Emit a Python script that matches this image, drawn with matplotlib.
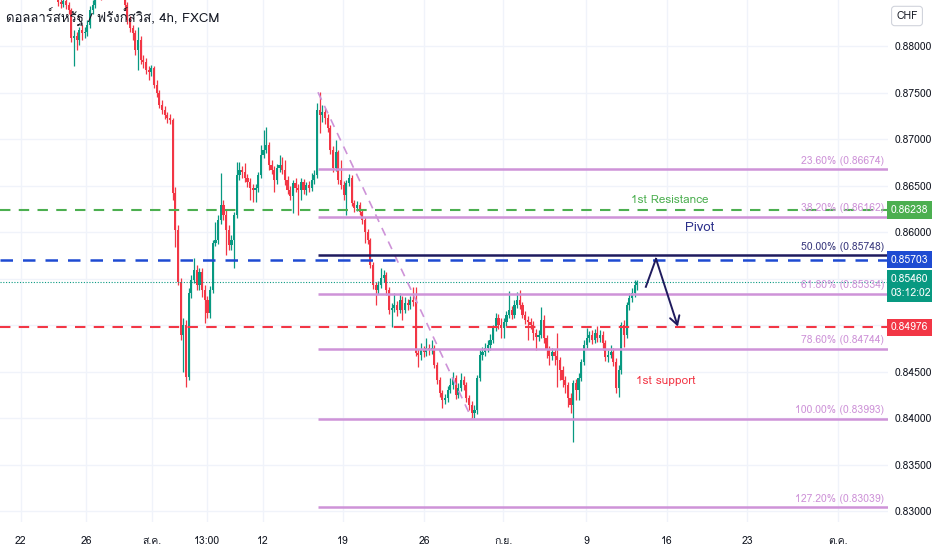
import numpy as np
import matplotlib
matplotlib.use("Agg")
import matplotlib.pyplot as plt
from matplotlib import font_manager
from matplotlib.ft2font import FT2Font

# USD/CHF 4h candles, prices in 1e-5 units (open = previous close)
first_open = 88516
close_pts = [
    88474, 88452, 88484, 88441, 88387, 88086, 88108, 88065, 88172, 88140,
    88151, 88226, 88387, 88441, 88549, 88602, 88549, 88656, 88764, 88871,
    88817, 88925, 88871, 88817, 88656, 88441, 88280, 88194, 88140, 87957,
    88065, 87850, 87828, 87742, 87721, 87764, 87581, 87495, 87366, 87312,
    87259, 87226, 87205, 86420, 86022, 85463, 84894, 85001, 84442, 85345,
    85485, 85592, 85431, 85571, 85377, 85270, 85130, 85377, 85883, 85915,
    86130, 86291, 86184, 86022, 85861, 85915, 86184, 86614, 86667, 86646,
    86581, 86538, 86474, 86452, 86474, 86614, 86829, 86882, 86936, 86721,
    86667, 86560, 86689, 86721, 86667, 86560, 86452, 86388, 86528, 86474,
    86452, 86538, 86452, 86506, 86474, 86560, 86614, 87312, 87259, 87291,
    87226, 87119, 86882, 86689, 86861, 86560, 86506, 86399, 86528, 86581,
    86313, 86259, 86291, 86216, 86130, 86001, 85915, 85646, 85431, 85377,
    85431, 85507, 85539, 85377, 85163, 85184, 85216, 85163, 85270, 85163,
    85238, 85216, 85270, 85249, 84700, 84679, 84733, 84711, 84754, 84733,
    84754, 84571, 84410, 84270, 84195, 84217, 84303, 84356, 84432, 84249,
    84324, 84410, 84356, 84217, 84141, 84055, 84088, 84432, 84679, 84711,
    84754, 84786, 84840, 84969, 85077, 85001, 84969, 85034, 85109, 85163,
    85109, 85216, 85270, 85216, 85109, 85055, 85034, 85001, 84915, 84872,
    84894, 85055, 84862, 84733, 84668, 84711, 84668, 84625, 84518, 84410,
    84356, 84217, 84141, 84378, 84303, 84432, 84604, 84786, 84862, 84894,
    84840, 84915, 84862, 84894, 84808, 84657, 84679, 84711, 84604, 84324,
    84518, 85001, 84894, 85216, 85292, 85345, 85431, 85460,
]
high_pts = [
    88560, 88506, 88527, 88517, 88474, 88409, 88172, 88151, 88205, 88226,
    88205, 88280, 88431, 88495, 88602, 88656, 88646, 88710, 88817, 88925,
    88925, 88979, 88968, 88925, 88850, 88689, 88474, 88323, 88226, 88172,
    88205, 88108, 87904, 87871, 87786, 87796, 87786, 87635, 87528, 87420,
    87356, 87291, 87270, 87227, 86485, 86076, 85507, 85077, 85055, 85399,
    85539, 85722, 85646, 85614, 85614, 85431, 85313, 85421, 85915, 86109,
    86184, 86635, 86345, 86237, 86076, 85969, 86216, 86754, 86754, 86711,
    86743, 86625, 86581, 86517, 86517, 86646, 86936, 87097, 87130, 86968,
    86775, 86711, 86732, 86829, 86807, 86775, 86603, 86496, 86560, 86581,
    86517, 86581, 86571, 86538, 86549, 86635, 86667, 87388, 87505, 87366,
    87334, 87270, 87151, 86926, 86990, 86882, 86775, 86549, 86560, 86625,
    86614, 86345, 86334, 86323, 86248, 86162, 86033, 85936, 85679, 85463,
    85474, 85614, 85592, 85571, 85410, 85238, 85345, 85259, 85345, 85313,
    85302, 85281, 85313, 85410, 85410, 84743, 84808, 84775, 84862, 84797,
    84840, 84786, 84604, 84442, 84303, 84260, 84346, 84432, 84496, 84464,
    84378, 84485, 84453, 84389, 84249, 84184, 84141, 84464, 84733, 84765,
    84808, 84840, 84905, 85001, 85130, 85120, 85077, 85077, 85152, 85367,
    85206, 85270, 85356, 85377, 85249, 85152, 85098, 85077, 85044, 84958,
    84948, 85195, 85109, 84894, 84776, 84754, 84743, 84915, 84657, 84560,
    84453, 84389, 84270, 84410, 84421, 84485, 84636, 84840, 84969, 84937,
    84948, 84958, 84990, 84948, 84937, 84840, 84733, 84786, 84754, 84646,
    84571, 85034, 85055, 85249, 85345, 85399, 85485, 85485,
]
low_pts = [
    88431, 88409, 88420, 88398, 88345, 88044, 87786, 87957, 88011, 88065,
    88086, 88108, 88194, 88345, 88409, 88506, 88495, 88517, 88624, 88732,
    88775, 88775, 88817, 88764, 88602, 88387, 88237, 88151, 88065, 87904,
    87742, 87807, 87764, 87699, 87635, 87678, 87549, 87452, 87334, 87270,
    87216, 87173, 87162, 86345, 85840, 85431, 84840, 84496, 84335, 84410,
    85292, 85453, 85377, 85377, 85302, 85023, 85077, 85077, 85345, 85851,
    85872, 86087, 86130, 85754, 85808, 85808, 85614, 86152, 86560, 86581,
    86538, 86485, 86345, 86323, 86323, 86431, 86581, 86796, 86850, 86667,
    86625, 86431, 86517, 86646, 86625, 86506, 86409, 86345, 86205, 86431,
    86184, 86345, 86409, 86399, 86431, 86442, 86517, 86581, 87065, 87184,
    87162, 87076, 86840, 86646, 86657, 86517, 86463, 86345, 86184, 86496,
    86281, 86216, 86227, 86184, 86087, 85883, 85872, 85614, 85388, 85216,
    85335, 85399, 85463, 85324, 85120, 84980, 85141, 85098, 85130, 85055,
    85130, 85163, 85173, 85206, 84668, 84550, 84625, 84657, 84668, 84679,
    84690, 84539, 84367, 84227, 84109, 84152, 84174, 84270, 84313, 84206,
    84217, 84292, 84303, 84174, 84088, 84001, 84001, 84044, 84399, 84625,
    84668, 84711, 84733, 84808, 84937, 84958, 84862, 84862, 84990, 85077,
    85066, 85077, 85184, 85173, 85077, 85012, 84840, 84958, 84840, 84733,
    84829, 84862, 84808, 84646, 84571, 84625, 84571, 84335, 84410, 84335,
    84270, 84120, 84055, 83743, 84195, 84195, 84399, 84571, 84754, 84819,
    84797, 84808, 84819, 84819, 84733, 84614, 84604, 84646, 84560, 84270,
    84227, 84474, 84765, 84862, 85163, 85249, 85302, 85377,
]

# time axis labels (candle index positions)
tick_pos = [-13.9, 10.5, 35.2, 55.8, 76.8, 106.7, 137.1, 166.7, 197.8, 228.1, 258.1, 292.0]
tick_lbl = ["22", "26", "ส.ค.", "13:00", "12", "19", "26", "ก.ย.", "9", "16", "23", "ต.ค."]

# levels
fib_ratio = ["23.60%", "38.20%", "50.00%", "61.80%", "78.60%", "100.00%", "127.20%"]
fib_price = [0.86674, 0.86162, 0.85748, 0.85334, 0.84744, 0.83993, 0.83039]
fib_top = 0.87503
resistance = 0.86238
pivot = 0.85703
support = 0.84976
last_price = 0.85460
countdown = "03:12:02"

# arrow path (candle index, price)
arrow_x = [220.2, 224.0, 232.2]
arrow_y = [0.85411, 0.85712, 0.84984]

# ---------- fonts ----------
thai_font = None
for f in font_manager.fontManager.ttflist:
    try:
        if FT2Font(f.fname).get_char_index(0x0E14):
            thai_font = f.name
            break
    except Exception:
        pass
names = {f.name for f in font_manager.fontManager.ttflist}
fam = []
if "Liberation Sans Narrow" in names:
    fam.append("Liberation Sans Narrow")
if thai_font:
    fam.append(thai_font)
fam.append("DejaVu Sans")
plt.rcParams["font.family"] = fam
plt.rcParams["font.stretch"] = "condensed"

up, down = "#089981", "#F23645"
fib_col = "#CE93D8"
navy = "#1F1B5E"
text_col = "#131722"

close = np.array(close_pts) / 1e5
high = np.array(high_pts) / 1e5
low = np.array(low_pts) / 1e5
opn = np.concatenate([[first_open / 1e5], close[:-1]])
idx = np.arange(len(close))

fig = plt.figure(figsize=(9.32, 5.5), dpi=100)
ax = fig.add_axes([0, 1 - 522 / 550, 888 / 932, 522 / 550])
x0, x1 = -21.7, 310.9
ax.set_xlim(x0, x1)
ax.set_ylim(0.82882, 0.88495)

ax.grid(True, color="#F0F3FA", lw=1, zorder=0)
for s in ax.spines.values():
    s.set_visible(False)

# candles
cols = np.where(close >= opn, up, down)
ax.vlines(idx, low, high, colors=cols, lw=0.9, zorder=3)
ax.bar(idx, np.abs(close - opn), bottom=np.minimum(close, opn), width=0.8,
       color=cols, lw=0, zorder=4)

# horizontal dashed levels
ax.axhline(resistance, color="#4CAF50", lw=1.5, ls=(0, (5, 4)), zorder=5)
ax.axhline(pivot, color="#1E4BD2", lw=1.8, ls=(0, (5, 4)), zorder=5)
ax.axhline(support, color="#F23645", lw=1.5, ls=(0, (5, 4)), zorder=5)
ax.axhline(last_price, color=up, lw=0.8, ls=(0, (1, 1.5)), zorder=5)

# fibonacci levels
fib_start = 97.4
ax.plot([fib_start, 155.0], [fib_top, fib_price[5]], color=fib_col, lw=1.2,
        ls=(0, (5, 4)), zorder=5)
for r, p in zip(fib_ratio, fib_price):
    c = navy if r == "50.00%" else fib_col
    ax.hlines(p, fib_start, x1, colors=c, lw=1.8, zorder=6)
    ax.annotate(f"{r} ({p:.5f})", xy=(309.5, p), xytext=(0, 2.5),
                textcoords="offset points", ha="right", va="bottom",
                fontsize=7.5, color="#3B3A7E" if r == "50.00%" else fib_col, zorder=7)

# arrow
ax.plot(arrow_x[:2], arrow_y[:2], color=navy, lw=1.4, zorder=8)
ax.annotate("", xy=(arrow_x[2], arrow_y[2]), xytext=(arrow_x[1], arrow_y[1]),
            arrowprops=dict(arrowstyle="->,head_length=0.6,head_width=0.35",
                            color=navy, lw=1.4, shrinkA=0, shrinkB=0), zorder=8)

ax.text(229.2, 0.86344, "1st Resistance", color="#4CAF50", fontsize=8.5,
        ha="center", va="center", zorder=8)
ax.text(240.5, 0.86043, "Pivot", color="#2B2F8A", fontsize=9.5,
        ha="center", va="center", zorder=8)
ax.text(227.7, 0.84398, "1st support", color="#F23645", fontsize=8.5,
        ha="center", va="center", zorder=8)

# title
ax.text(0.0065, 0.966, "ดอลลาร์สหรัฐ / ฟรังก์สวิส, 4h, FXCM", transform=ax.transAxes,
        fontsize=9.5, color=text_col, ha="left", va="center", zorder=9)

# axes ticks; 0.855 and 0.850 sit behind the price boxes
ax.set_xticks(tick_pos)
ax.set_xticklabels(tick_lbl)
yt = np.round(np.arange(0.830, 0.8801, 0.005), 3)
ax.set_yticks(yt)
ax.set_yticklabels(["" if v in (0.855, 0.85) else f"{v:.5f}" for v in yt])
ax.yaxis.tick_right()
ax.tick_params(axis="both", length=0, labelsize=7.5, colors=text_col)
ax.tick_params(axis="y", pad=5)
ax.tick_params(axis="x", pad=10)

# price axis boxes
ytr = ax.get_yaxis_transform()
for p, c in [(resistance, "#4CAF50"), (pivot, "#1E4BD2"), (support, "#F23645")]:
    ax.text(1.003, p, f"{p:.5f}", transform=ytr, ha="left", va="center",
            fontsize=7.5, color="white", clip_on=False, zorder=10,
            bbox=dict(boxstyle="square,pad=0.35", fc=c, ec="none"))
ax.annotate(f"{last_price:.5f}\n{countdown}", xy=(1.003, last_price), xycoords=ytr,
            xytext=(0, 6), textcoords="offset points", ha="left", va="top",
            fontsize=7.5, color="white", linespacing=1.5, annotation_clip=False,
            zorder=10, bbox=dict(boxstyle="square,pad=0.35", fc=up, ec="none"))

fig.text(907 / 932, 1 - 16 / 550, "CHF", ha="center", va="center", fontsize=7.5,
         color=text_col,
         bbox=dict(boxstyle="round,pad=0.45,rounding_size=0.3", fc="white", ec="#D1D4DC", lw=0.8))

fig.savefig("out.png", dpi=100)
